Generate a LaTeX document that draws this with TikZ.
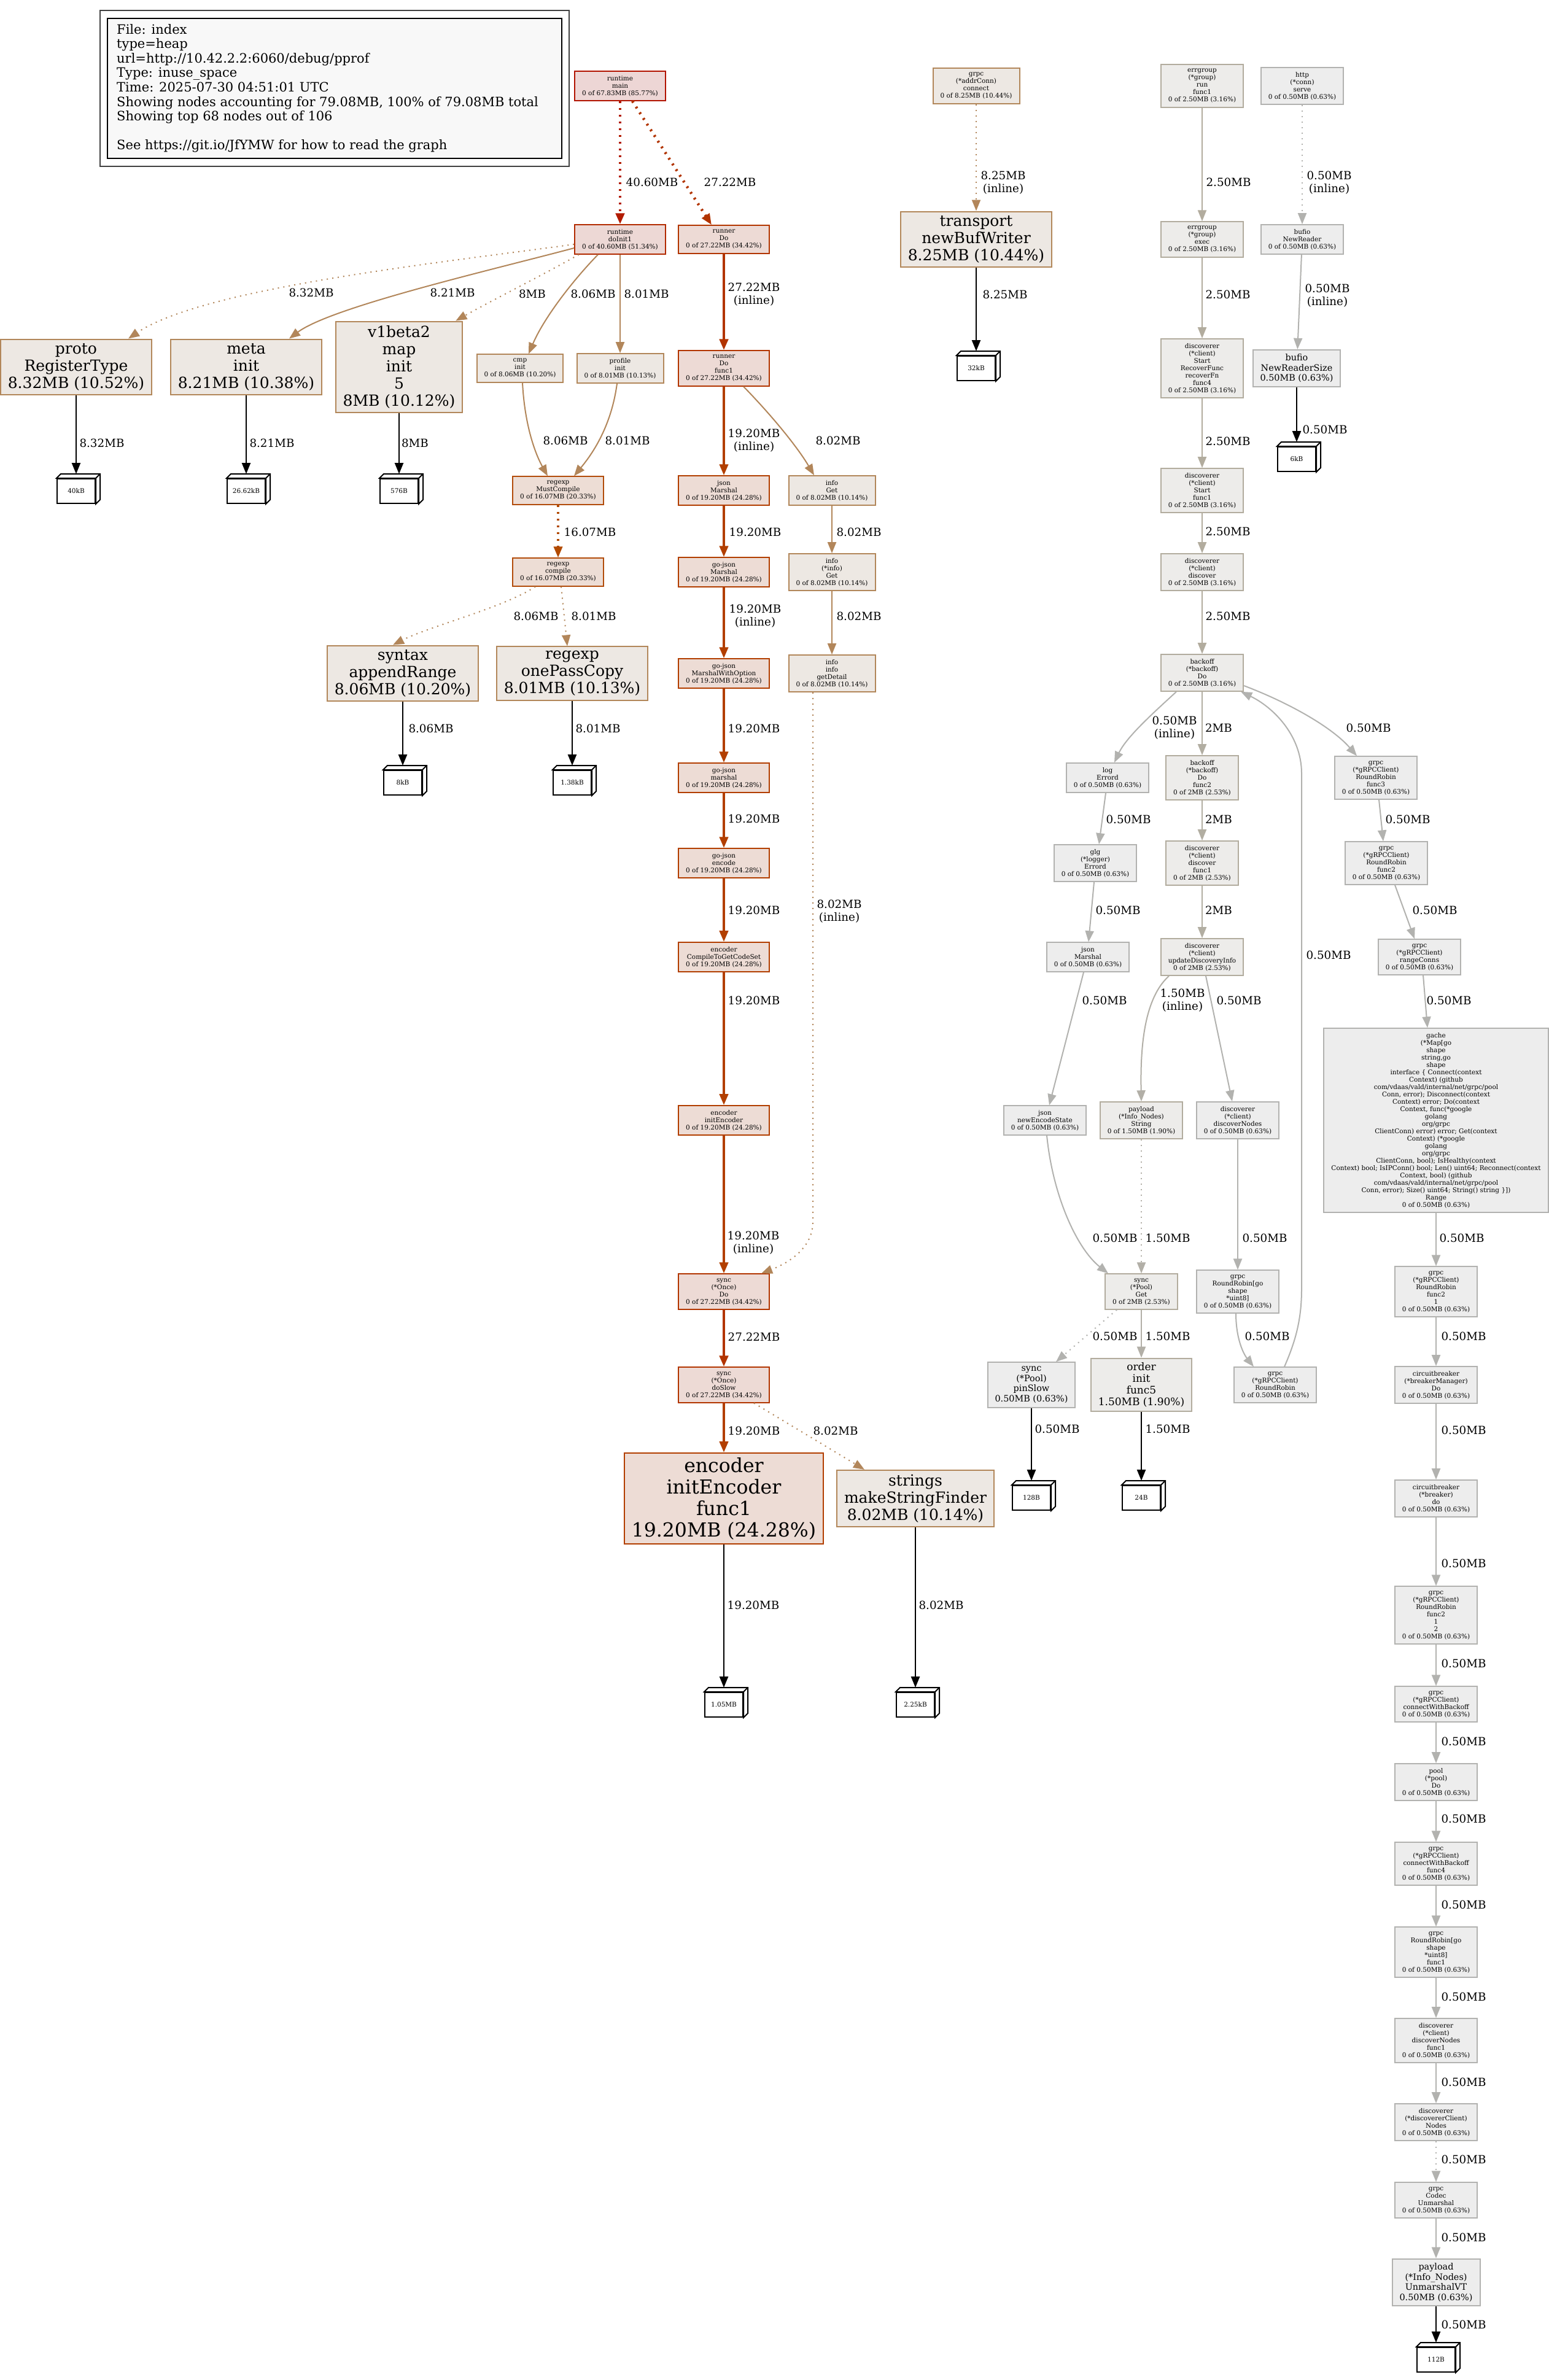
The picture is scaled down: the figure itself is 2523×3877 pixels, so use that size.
\documentclass[tikz,border=0pt]{standalone}
\usepackage{fontspec}
\setmainfont{DejaVu Serif}
\usetikzlibrary{arrows.meta}
\definecolor{fMain}{HTML}{EDD6D5}\definecolor{dMain}{HTML}{B21300}
\definecolor{fInit}{HTML}{EDD8D5}\definecolor{dInit}{HTML}{B22A00}
\definecolor{fRun}{HTML}{EDDAD5}\definecolor{dRun}{HTML}{B23500}
\definecolor{fEnc}{HTML}{EDDCD5}\definecolor{dEnc}{HTML}{B23E00}
\definecolor{fRe}{HTML}{EDDDD5}\definecolor{dRe}{HTML}{B24C0B}
\definecolor{fTen}{HTML}{EDE8E3}\definecolor{dTen}{HTML}{B2875A}
\definecolor{fThree}{HTML}{EDECEA}\definecolor{dThree}{HTML}{B2AC9E}
\definecolor{fLow}{HTML}{EDEDED}\definecolor{dLow}{HTML}{B2B2B0}
\definecolor{eFortyC}{HTML}{B21B00}
\definecolor{eTwSevC}{HTML}{B23400}
\definecolor{eNineC}{HTML}{B23F00}
\definecolor{eSixC}{HTML}{B24A00}
\definecolor{eEightC}{HTML}{B2865A}
\definecolor{eTwoHC}{HTML}{B2AC9E}
\definecolor{eTwoC}{HTML}{B2AEA2}
\definecolor{eOneHC}{HTML}{B2AFA7}
\definecolor{eHalfC}{HTML}{B2B2AF}
\definecolor{legfill}{HTML}{F8F8F8}
\newcommand\pfS{\fontsize{10.5}{12}\selectfont}
\newcommand\pfM{\fontsize{14.4}{16.5}\selectfont}
\newcommand\pfO{\fontsize{17}{19}\selectfont}
\newcommand\pfB{\fontsize{25}{28}\selectfont}
\newcommand\pfH{\fontsize{31.5}{35}\selectfont}
\newcommand\pfL{\fontsize{18.3}{21}\selectfont}
\newcommand\pfG{\fontsize{21}{23.6}\selectfont}
\newcommand\boxdepth[1]{\filldraw[line width=2pt, fill=white] (#1.north west) -- ++(7pt,7pt) -- ([shift={(7pt,7pt)}]#1.north east) -- ([shift={(7pt,7pt)}]#1.south east) -- (#1.south east) -- (#1.north east) -- cycle; \draw[line width=2pt] (#1.north east) -- ++(7pt,7pt);}
\tikzset{
 nd/.style={draw, rectangle, align=center, inner xsep=12pt, inner ysep=7pt, line width=2pt, font=\pfS},
 nMain/.style={nd, fill=fMain, draw=dMain},
 nInit/.style={nd, fill=fInit, draw=dInit},
 nRun/.style={nd, fill=fRun, draw=dRun},
 nEnc/.style={nd, fill=fEnc, draw=dEnc},
 nRe/.style={nd, fill=fRe, draw=dRe},
 nTen/.style={nd, fill=fTen, draw=dTen},
 nThree/.style={nd, fill=fThree, draw=dThree},
 nLow/.style={nd, fill=fLow, draw=dLow},
 bigf/.style={font=\pfB},
 hugef/.style={font=\pfH},
 medf/.style={font=\pfM},
 midf/.style={font=\pfO},
 leaf/.style={draw=black, line width=2pt, fill=white, minimum width=62pt, minimum height=40pt, inner sep=2pt, font=\pfS},
 lab/.style={font=\pfL, align=center, inner sep=0pt},
 ar/.style={-{Triangle[length=18pt,width=14pt]}, line width=2pt},
 dotl/.style={dash pattern=on 2pt off 7pt},
 eForty/.style={ar, draw=eFortyC, line width=4.5pt, dash pattern=on 3pt off 8pt},
 eTwSev/.style={ar, draw=eTwSevC, line width=4.5pt},
 eNine/.style={ar, draw=eNineC, line width=4pt},
 eSix/.style={ar, draw=eSixC, line width=3.5pt, dash pattern=on 3pt off 8pt},
 eEight/.style={ar, draw=eEightC, line width=2pt},
 eTwoH/.style={ar, draw=eTwoHC, line width=2pt},
 eTwo/.style={ar, draw=eTwoC, line width=2pt},
 eOneH/.style={ar, draw=eOneHC, line width=2pt},
 eHalf/.style={ar, draw=eHalfC, line width=2pt},
 eBlack/.style={ar, draw=black, line width=2.5pt},
}
\begin{document}
\begin{tikzpicture}[x=1pt,y=-1pt]
\fill[white] (0,0) rectangle (2523,3877);
\useasboundingbox (0,0) rectangle (2523,3877);
% legend
\draw[line width=2pt, draw=black!75] (163,17) rectangle (927,271);
\draw[line width=2pt, fill=legfill] (175,30) rectangle (915,258);
\node[anchor=north west, align=left, font=\pfG, inner sep=0pt] (legend) at (190,39) {File: index\\type=heap\\url=http://10.42.2.2:6060/debug/pprof\\Type: inuse\_space\\Time: 2025-07-30 04:51:01 UTC\\Showing nodes accounting for 79.08MB, 100\% of 79.08MB total\\Showing top 68 nodes out of 106\\[23.6pt]See https://git.io/JfYMW for how to read the graph};
% left / middle nodes
\node[nMain] (rmain) at (1010,140) {runtime\\main\\0 of 67.83MB (85.77\%)};
\node[nInit] (doinit) at (1010,390) {runtime\\doInit1\\0 of 40.60MB (51.34\%)};
\node[nRun] (rdo) at (1179,390) {runner\\Do\\0 of 27.22MB (34.42\%)};
\node[nRun] (rdof) at (1179,600) {runner\\Do\\func1\\0 of 27.22MB (34.42\%)};
\node[nTen,bigf] (proto) at (124,598) {proto\\RegisterType\\8.32MB (10.52\%)};
\node[nTen,bigf] (meta) at (401,598) {meta\\init\\8.21MB (10.38\%)};
\node[nTen,bigf] (v1b) at (650,598) {v1beta2\\map\\init\\5\\8MB (10.12\%)};
\node[nTen] (cmp) at (847,600) {cmp\\init\\0 of 8.06MB (10.20\%)};
\node[nTen] (prof) at (1010,600) {profile\\init\\0 of 8.01MB (10.13\%)};
\node[nRe] (must) at (909,799) {regexp\\MustCompile\\0 of 16.07MB (20.33\%)};
\node[nRe] (comp) at (909,932) {regexp\\compile\\0 of 16.07MB (20.33\%)};
\node[nTen,bigf] (syn) at (656,1097) {syntax\\appendRange\\8.06MB (10.20\%)};
\node[nTen,bigf] (onep) at (932,1097) {regexp\\onePassCopy\\8.01MB (10.13\%)};
\node[nEnc] (jm) at (1179,799) {json\\Marshal\\0 of 19.20MB (24.28\%)};
\node[nEnc] (gjM) at (1179,932) {go-json\\Marshal\\0 of 19.20MB (24.28\%)};
\node[nEnc] (gjMWO) at (1179,1097) {go-json\\MarshalWithOption\\0 of 19.20MB (24.28\%)};
\node[nEnc] (gjm) at (1179,1267) {go-json\\marshal\\0 of 19.20MB (24.28\%)};
\node[nEnc] (gje) at (1179,1406) {go-json\\encode\\0 of 19.20MB (24.28\%)};
\node[nEnc] (ecs) at (1179,1559) {encoder\\CompileToGetCodeSet\\0 of 19.20MB (24.28\%)};
\node[nEnc] (eie) at (1179,1825) {encoder\\initEncoder\\0 of 19.20MB (24.28\%)};
\node[nRun] (onced) at (1179,2104) {sync\\(*Once)\\Do\\0 of 27.22MB (34.42\%)};
\node[nRun] (onces) at (1179,2256) {sync\\(*Once)\\doSlow\\0 of 27.22MB (34.42\%)};
\node[nEnc,hugef] (eief) at (1179,2441) {encoder\\initEncoder\\func1\\19.20MB (24.28\%)};
\node[nTen,bigf] (strf) at (1491,2441) {strings\\makeStringFinder\\8.02MB (10.14\%)};
\node[nTen] (iget) at (1355,799) {info\\Get\\0 of 8.02MB (10.14\%)};
\node[nTen] (iiget) at (1355,932) {info\\(*info)\\Get\\0 of 8.02MB (10.14\%)};
\node[nTen] (idet) at (1355,1097) {info\\info\\getDetail\\0 of 8.02MB (10.14\%)};
% right nodes
\node[nTen] (addr) at (1590,140) {grpc\\(*addrConn)\\connect\\0 of 8.25MB (10.44\%)};
\node[nTen,bigf] (tbw) at (1590,390) {transport\\newBufWriter\\8.25MB (10.44\%)};
\node[nThree] (egr) at (1958,140) {errgroup\\(*group)\\run\\func1\\0 of 2.50MB (3.16\%)};
\node[nThree] (ege) at (1958,390) {errgroup\\(*group)\\exec\\0 of 2.50MB (3.16\%)};
\node[nLow] (hs) at (2121,140) {http\\(*conn)\\serve\\0 of 0.50MB (0.63\%)};
\node[nLow] (bnr) at (2121,390) {bufio\\NewReader\\0 of 0.50MB (0.63\%)};
\node[nLow,medf] (bnrs) at (2112,600) {bufio\\NewReaderSize\\0.50MB (0.63\%)};
\node[nThree] (drf) at (1958,600) {discoverer\\(*client)\\Start\\RecoverFunc\\recoverFn\\func4\\0 of 2.50MB (3.16\%)};
\node[nThree] (dsf) at (1958,799) {discoverer\\(*client)\\Start\\func1\\0 of 2.50MB (3.16\%)};
\node[nThree] (dd) at (1958,932) {discoverer\\(*client)\\discover\\0 of 2.50MB (3.16\%)};
\node[nThree] (bo) at (1958,1096) {backoff\\(*backoff)\\Do\\0 of 2.50MB (3.16\%)};
\node[nLow] (loge) at (1804,1267) {log\\Errord\\0 of 0.50MB (0.63\%)};
\node[nThree] (bof2) at (1958,1267) {backoff\\(*backoff)\\Do\\func2\\0 of 2MB (2.53\%)};
\node[nLow] (rrf3) at (2241,1267) {grpc\\(*gRPCClient)\\RoundRobin\\func3\\0 of 0.50MB (0.63\%)};
\node[nLow] (glg) at (1784,1406) {glg\\(*logger)\\Errord\\0 of 0.50MB (0.63\%)};
\node[nThree] (ddf1) at (1958,1406) {discoverer\\(*client)\\discover\\func1\\0 of 2MB (2.53\%)};
\node[nLow] (rrf2) at (2258,1406) {grpc\\(*gRPCClient)\\RoundRobin\\func2\\0 of 0.50MB (0.63\%)};
\node[nLow] (jm2) at (1772,1559) {json\\Marshal\\0 of 0.50MB (0.63\%)};
\node[nThree] (udi) at (1958,1559) {discoverer\\(*client)\\updateDiscoveryInfo\\0 of 2MB (2.53\%)};
\node[nLow] (rc) at (2312,1559) {grpc\\(*gRPCClient)\\rangeConns\\0 of 0.50MB (0.63\%)};
\node[nLow] (nes) at (1702,1825) {json\\newEncodeState\\0 of 0.50MB (0.63\%)};
\node[nThree] (pstr) at (1859,1825) {payload\\(*Info\_Nodes)\\String\\0 of 1.50MB (1.90\%)};
\node[nLow] (dn) at (2016,1825) {discoverer\\(*client)\\discoverNodes\\0 of 0.50MB (0.63\%)};
\node[nLow] (gache) at (2339,1825) {gache\\(*Map[go\\shape\\string,go\\shape\\interface \{ Connect(context\\Context) (github\\com/vdaas/vald/internal/net/grpc/pool\\Conn, error); Disconnect(context\\Context) error; Do(context\\Context, func(*google\\golang\\org/grpc\\ClientConn) error) error; Get(context\\Context) (*google\\golang\\org/grpc\\ClientConn, bool); IsHealthy(context\\Context) bool; IsIPConn() bool; Len() uint64; Reconnect(context\\Context, bool) (github\\com/vdaas/vald/internal/net/grpc/pool\\Conn, error); Size() uint64; String() string \}])\\Range\\0 of 0.50MB (0.63\%)};
\node[nThree] (pget) at (1859,2104) {sync\\(*Pool)\\Get\\0 of 2MB (2.53\%)};
\node[nLow] (rrgs) at (2016,2104) {grpc\\RoundRobin[go\\shape\\{}*uint8]\\0 of 0.50MB (0.63\%)};
\node[nLow] (rrf21) at (2339,2104) {grpc\\(*gRPCClient)\\RoundRobin\\func2\\1\\0 of 0.50MB (0.63\%)};
\node[nLow,medf] (pin) at (1680,2256) {sync\\(*Pool)\\pinSlow\\0.50MB (0.63\%)};
\node[nThree,midf] (oif5) at (1859,2256) {order\\init\\func5\\1.50MB (1.90\%)};
\node[nLow] (rrb) at (2077,2256) {grpc\\(*gRPCClient)\\RoundRobin\\0 of 0.50MB (0.63\%)};
\node[nLow] (cbm) at (2339,2256) {circuitbreaker\\(*breakerManager)\\Do\\0 of 0.50MB (0.63\%)};
\node[nLow] (cbd) at (2339,2441) {circuitbreaker\\(*breaker)\\do\\0 of 0.50MB (0.63\%)};
\node[nLow] (rrf212) at (2339,2631) {grpc\\(*gRPCClient)\\RoundRobin\\func2\\1\\2\\0 of 0.50MB (0.63\%)};
\node[nLow] (cwb) at (2339,2776) {grpc\\(*gRPCClient)\\connectWithBackoff\\0 of 0.50MB (0.63\%)};
\node[nLow] (pdo) at (2339,2903) {pool\\(*pool)\\Do\\0 of 0.50MB (0.63\%)};
\node[nLow] (cwbf4) at (2339,3036) {grpc\\(*gRPCClient)\\connectWithBackoff\\func4\\0 of 0.50MB (0.63\%)};
\node[nLow] (rrgsf1) at (2339,3180) {grpc\\RoundRobin[go\\shape\\{}*uint8]\\func1\\0 of 0.50MB (0.63\%)};
\node[nLow] (dnf1) at (2339,3324) {discoverer\\(*client)\\discoverNodes\\func1\\0 of 0.50MB (0.63\%)};
\node[nLow] (dcn) at (2339,3457) {discoverer\\(*discovererClient)\\Nodes\\0 of 0.50MB (0.63\%)};
\node[nLow] (cu) at (2339,3584) {grpc\\Codec\\Unmarshal\\0 of 0.50MB (0.63\%)};
\node[nLow,medf] (puvt) at (2339,3718) {payload\\(*Info\_Nodes)\\UnmarshalVT\\0.50MB (0.63\%)};
% leaves
\node[leaf] (l40) at (124,800) {40kB};
\node[leaf] (l26) at (401,800) {26.62kB};
\node[leaf] (l576) at (650,800) {576B};
\node[leaf] (l8k) at (656,1275) {8kB};
\node[leaf] (l138) at (932,1275) {1.38kB};
\node[leaf] (l32) at (1590,600) {32kB};
\node[leaf] (l6k) at (2112,748) {6kB};
\node[leaf] (l105) at (1179,2777) {1.05MB};
\node[leaf] (l225) at (1491,2777) {2.25kB};
\node[leaf] (l128) at (1680,2440) {128B};
\node[leaf] (l24) at (1859,2440) {24B};
\node[leaf] (l112) at (2339,3844) {112B};
\foreach \n in {l40,l26,l576,l8k,l138,l32,l6k,l105,l225,l128,l24,l112}{\boxdepth{\n}}
% edges left
\draw[eForty] (rmain) -- (doinit);
\draw[eTwSev, dash pattern=on 3pt off 8pt] ([xshift=20pt]rmain.south) -- ([xshift=-20pt]rdo.north);
\draw[eEight, dotl] ([yshift=-8pt]doinit.west) .. controls (700,430) and (330,470) .. ([xshift=85pt]proto.north);
\draw[eEight] ([yshift=-14pt]doinit.west) .. controls (800,440) and (540,500) .. ([xshift=70pt]meta.north);
\draw[eEight, dotl] ([xshift=-67pt]doinit.south) .. controls (880,450) and (800,490) .. ([xshift=-12pt]v1b.north east);
\draw[eEight] ([xshift=-36pt]doinit.south) .. controls (930,460) and (885,520) .. ([xshift=14pt]cmp.north);
\draw[eEight] (doinit) -- (prof);
\draw[eEight] ([xshift=4pt]cmp.south) .. controls (855,700) and (875,745) .. ([xshift=-17pt]must.north);
\draw[eEight] ([xshift=-5pt]prof.south) .. controls (995,700) and (960,745) .. ([xshift=26pt]must.north);
\draw[eSix] (must) -- (comp);
\draw[eEight, dotl] ([xshift=-37pt]comp.south) .. controls (820,990) and (700,1020) .. ([xshift=-16pt]syn.north);
\draw[eEight, dotl] ([xshift=5pt]comp.south) -- ([xshift=-8pt]onep.north);
\draw[eBlack] (proto) -- ([yshift=7pt]l40.north);
\draw[eBlack] (meta) -- ([yshift=7pt]l26.north);
\draw[eBlack] (v1b) -- ([yshift=7pt]l576.north);
\draw[eBlack] (syn) -- ([yshift=7pt]l8k.north);
\draw[eBlack] (onep) -- ([yshift=7pt]l138.north);
% runner column
\draw[eTwSev] (rdo) -- (rdof);
\draw[eNine] (rdof) -- (jm);
\draw[eEight] ([xshift=32pt]rdof.south) .. controls (1260,680) and (1300,730) .. ([xshift=-29pt]iget.north);
\draw[eNine] (jm) -- (gjM);
\draw[eNine] (gjM) -- (gjMWO);
\draw[eNine] (gjMWO) -- (gjm);
\draw[eNine] (gjm) -- (gje);
\draw[eNine] (gje) -- (ecs);
\draw[eNine] (ecs) -- (eie);
\draw[eNine] (eie) -- (onced);
\draw[eEight] (iget) -- (iiget);
\draw[eEight] (iiget) -- (idet);
\draw[eEight, dotl] ([xshift=-31pt]idet.south) -- (1324,1990) .. controls (1324,2030) and (1290,2055) .. ([xshift=61pt]onced.north);
\draw[eTwSev] (onced) -- (onces);
\draw[eNine] (onces) -- (eief);
\draw[eEight, dotl] ([xshift=49pt]onces.south) -- ([xshift=-83pt]strf.north);
\draw[eBlack] (eief) -- ([yshift=7pt]l105.north);
\draw[eBlack] (strf) -- ([yshift=7pt]l225.north);
% right edges
\draw[eEight, dotl] (addr) -- (tbw);
\draw[eBlack] (tbw) -- ([yshift=7pt]l32.north);
\draw[eTwoH] (egr) -- (ege);
\draw[eTwoH] (ege) -- (drf);
\draw[eTwoH] (drf) -- (dsf);
\draw[eTwoH] (dsf) -- (dd);
\draw[eTwoH] (dd) -- (bo);
\draw[eHalf, dotl] (hs) -- (bnr);
\draw[eHalf] (bnr) -- (bnrs);
\draw[eBlack] (bnrs) -- ([yshift=7pt]l6k.north);
\draw[eHalf] ([xshift=-42pt]bo.south) .. controls (1880,1160) and (1835,1200) .. ([xshift=11pt]loge.north);
\draw[eTwo] (bo) -- (bof2);
\draw[eHalf] ([yshift=-21pt]bo.east) .. controls (2100,1145) and (2170,1185) .. ([xshift=-31pt]rrf3.north);
\draw[eHalf] ([xshift=-3pt]loge.south) -- ([xshift=6pt]glg.north);
\draw[eTwo] (bof2) -- (ddf1);
\draw[eTwo] (ddf1) -- (udi);
\draw[eHalf] ([xshift=5pt]rrf3.south) -- ([xshift=-5pt]rrf2.north);
\draw[eHalf] ([xshift=-2pt]glg.south) -- ([xshift=1pt]jm2.north);
\draw[eHalf] ([xshift=14pt]rrf2.south) -- ([xshift=-8pt]rc.north);
\draw[eHalf] ([xshift=-7pt]jm2.south) -- ([xshift=7pt]nes.north);
\draw[eOneH] ([xshift=-54pt]udi.south) .. controls (1865,1625) and (1857,1700) .. (pstr.north);
\draw[eHalf] ([xshift=6pt]udi.south) -- ([xshift=-9pt]dn.north);
\draw[eHalf] ([xshift=6pt]rc.south) -- ([xshift=-14pt]gache.north);
\draw[eHalf] ([xshift=3pt]nes.south) .. controls (1715,1950) and (1755,2035) .. ([xshift=-54pt]pget.north);
\draw[eOneH, dotl] (pstr) -- (pget);
\draw[eHalf] (dn) -- (rrgs);
\draw[eHalf, dotl] ([xshift=-40pt]pget.south) -- ([xshift=40pt]pin.north);
\draw[eOneH] (pget) -- (oif5);
\draw[eHalf] ([xshift=-3pt]rrgs.south) .. controls (2013,2180) and (2025,2205) .. ([xshift=-35pt]rrb.north);
\draw[eHalf] ([xshift=15pt]rrb.north) .. controls (2110,2185) and (2120,2150) .. (2120,2100) -- (2120,1260) .. controls (2120,1195) and (2070,1150) .. ([xshift=-5pt]bo.south east);
\draw[eHalf] (gache) -- (rrf21);
\draw[eHalf] (rrf21) -- (cbm);
\draw[eHalf] (cbm) -- (cbd);
\draw[eHalf] (cbd) -- (rrf212);
\draw[eHalf] (rrf212) -- (cwb);
\draw[eHalf] (cwb) -- (pdo);
\draw[eHalf] (pdo) -- (cwbf4);
\draw[eHalf] (cwbf4) -- (rrgsf1);
\draw[eHalf] (rrgsf1) -- (dnf1);
\draw[eHalf] (dnf1) -- (dcn);
\draw[eHalf, dotl] (dcn) -- (cu);
\draw[eHalf] (cu) -- (puvt);
\draw[eBlack] (puvt) -- ([yshift=7pt]l112.north);
\draw[eBlack] (pin) -- ([yshift=7pt]l128.north);
\draw[eBlack] (oif5) -- ([yshift=7pt]l24.north);
% labels
\node[lab] (t1) at (1062,297) {40.60MB};
\node[lab] (t2) at (1189,297) {27.22MB};
\node[lab] (t3) at (507,477) {8.32MB};
\node[lab] (t4) at (737,477) {8.21MB};
\node[lab] (t5) at (867,479) {8MB};
\node[lab] (t6) at (966,479) {8.06MB};
\node[lab] (t7) at (1053,479) {8.01MB};
\node[lab] (t8) at (1228,480) {27.22MB\\(inline)};
\node[lab] (t9) at (166,722) {8.32MB};
\node[lab] (t10) at (443,722) {8.21MB};
\node[lab] (t11) at (676,722) {8MB};
\node[lab] (t12) at (921,718) {8.06MB};
\node[lab] (t13) at (1022,718) {8.01MB};
\node[lab] (t14) at (1228,718) {19.20MB\\(inline)};
\node[lab] (t15) at (1365,718) {8.02MB};
\node[lab] (t16) at (961,867) {16.07MB};
\node[lab] (t17) at (1230,867) {19.20MB};
\node[lab] (t18) at (1399,867) {8.02MB};
\node[lab] (t19) at (873,1004) {8.06MB};
\node[lab] (t20) at (967,1004) {8.01MB};
\node[lab] (t21) at (1230,1004) {19.20MB\\(inline)};
\node[lab] (t22) at (1399,1004) {8.02MB};
\node[lab] (t23) at (702,1187) {8.06MB};
\node[lab] (t24) at (974,1187) {8.01MB};
\node[lab] (t25) at (1228,1187) {19.20MB};
\node[lab] (t26) at (1228,1334) {19.20MB};
\node[lab] (t27) at (1228,1483) {19.20MB};
\node[lab] (t28) at (1367,1485) {8.02MB\\(inline)};
\node[lab] (t29) at (1228,1630) {19.20MB};
\node[lab] (t30) at (1227,2025) {19.20MB\\(inline)};
\node[lab] (t31) at (1228,2178) {27.22MB};
\node[lab] (t32) at (1228,2331) {19.20MB};
\node[lab] (t33) at (1361,2331) {8.02MB};
\node[lab] (t34) at (1227,2615) {19.20MB};
\node[lab] (t35) at (1533,2615) {8.02MB};
\node[lab] (t36) at (1634,298) {8.25MB\\(inline)};
\node[lab] (t37) at (1637,480) {8.25MB};
\node[lab] (t38) at (2001,297) {2.50MB};
\node[lab] (t39) at (2165,298) {0.50MB\\(inline)};
\node[lab] (t40) at (2000,480) {2.50MB};
\node[lab] (t41) at (2162,482) {0.50MB\\(inline)};
\node[lab] (t42) at (2000,719) {2.50MB};
\node[lab] (t43) at (2158,700) {0.50MB};
\node[lab] (t44) at (2000,866) {2.50MB};
\node[lab] (t45) at (2000,1004) {2.50MB};
\node[lab] (t46) at (1913,1186) {0.50MB\\(inline)};
\node[lab] (t47) at (1985,1186) {2MB};
\node[lab] (t48) at (2229,1186) {0.50MB};
\node[lab] (t49) at (1838,1335) {0.50MB};
\node[lab] (t50) at (1985,1335) {2MB};
\node[lab] (t51) at (2293,1335) {0.50MB};
\node[lab] (t52) at (1821,1483) {0.50MB};
\node[lab] (t53) at (1985,1483) {2MB};
\node[lab] (t54) at (2337,1483) {0.50MB};
\node[lab] (t55) at (2164,1556) {0.50MB};
\node[lab] (t56) at (1799,1630) {0.50MB};
\node[lab] (t57) at (1926,1630) {1.50MB\\(inline)};
\node[lab] (t58) at (2018,1630) {0.50MB};
\node[lab] (t59) at (2360,1630) {0.50MB};
\node[lab] (t60) at (1816,2017) {0.50MB};
\node[lab] (t61) at (1902,2017) {1.50MB};
\node[lab] (t62) at (2060,2017) {0.50MB};
\node[lab] (t63) at (2381,2017) {0.50MB};
\node[lab] (t64) at (1816,2177) {0.50MB};
\node[lab] (t65) at (1902,2177) {1.50MB};
\node[lab] (t66) at (2064,2177) {0.50MB};
\node[lab] (t67) at (2384,2177) {0.50MB};
\node[lab] (t68) at (1722,2328) {0.50MB};
\node[lab] (t69) at (1902,2328) {1.50MB};
\node[lab] (t70) at (2384,2330) {0.50MB};
\node[lab] (t71) at (2384,2547) {0.50MB};
\node[lab] (t72) at (2384,2710) {0.50MB};
\node[lab] (t73) at (2384,2837) {0.50MB};
\node[lab] (t74) at (2384,2963) {0.50MB};
\node[lab] (t75) at (2384,3103) {0.50MB};
\node[lab] (t76) at (2384,3253) {0.50MB};
\node[lab] (t77) at (2384,3392) {0.50MB};
\node[lab] (t78) at (2384,3518) {0.50MB};
\node[lab] (t79) at (2384,3645) {0.50MB};
\node[lab] (t80) at (2384,3787) {0.50MB};
\end{tikzpicture}
\end{document}
